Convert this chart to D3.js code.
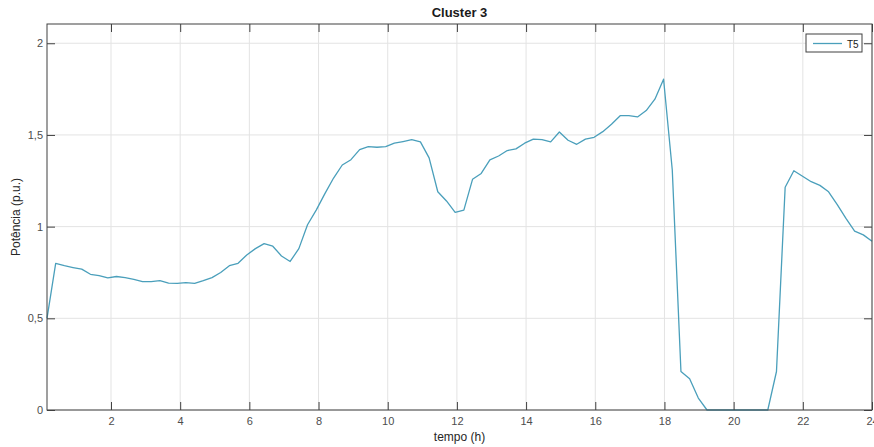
<!DOCTYPE html>
<html>
<head>
<meta charset="utf-8">
<script src="https://cdn.jsdelivr.net/npm/d3@7/dist/d3.min.js"></script>
<style>
  body { margin: 0; background: #fff; }
  text { font-family: "Liberation Sans", Arial, sans-serif; }
</style>
</head>
<body>
<script>
// potência do transformador T5, 96 amostras (aprox. 15 min)
var seriesName = "T5";
var values = [
  0.50, 0.80, 0.787, 0.777, 0.768, 0.74, 0.733, 0.72, 0.728, 0.722,
  0.712, 0.70, 0.70, 0.705, 0.692, 0.69, 0.695, 0.69, 0.705, 0.722,
  0.75, 0.787, 0.80, 0.845, 0.88, 0.907, 0.893, 0.84, 0.81, 0.88,
  1.01, 1.09, 1.18, 1.265, 1.336, 1.365, 1.42, 1.436, 1.433, 1.436,
  1.455, 1.464, 1.474, 1.462, 1.375, 1.19, 1.14, 1.078, 1.09, 1.258,
  1.29, 1.364, 1.385, 1.415, 1.424, 1.455, 1.477, 1.474, 1.462, 1.516,
  1.471, 1.449, 1.477, 1.487, 1.518, 1.558, 1.605, 1.605, 1.598, 1.633,
  1.695, 1.804, 1.31, 0.21, 0.17, 0.065, 0, 0, 0, 0,
  0, 0, 0, 0, 0.21, 1.215, 1.305, 1.275, 1.245, 1.225,
  1.19, 1.12, 1.045, 0.975, 0.955, 0.92
];
var tStart = 0.15, tEnd = 24;
var xTicks = [2, 4, 6, 8, 10, 12, 14, 16, 18, 20, 22, 24];
var yTicks = [0, 0.5, 1, 1.5, 2];

var width = 874, height = 447;
// plot box (note: "top" is reserved on window, so use prefixed names)
var pL = 47, pR = 872, pT = 24, pB = 410;
var lineColor = "#4a9fbb";
var axisColor = "#404040";

var svg = d3.select("body").append("svg")
    .attr("width", width)
    .attr("height", height);

var x = d3.scaleLinear().domain([tStart, tEnd]).range([pL, pR]);
var y = d3.scaleLinear().domain([0, 2.105]).range([pB, pT]);

var step = (tEnd - tStart) / (values.length - 1);
var data = values.map(function(v, i) { return {t: tStart + i * step, v: v}; });

//grid
svg.append("g").selectAll("line").data(xTicks).enter().append("line")
    .attr("x1", function(d) { return x(d); }).attr("x2", function(d) { return x(d); })
    .attr("y1", pT).attr("y2", pB)
    .attr("stroke", "#e3e3e3").attr("stroke-width", 1);
svg.append("g").selectAll("line").data(yTicks).enter().append("line")
    .attr("x1", pL).attr("x2", pR)
    .attr("y1", function(d) { return y(d); }).attr("y2", function(d) { return y(d); })
    .attr("stroke", "#e3e3e3").attr("stroke-width", 1);

//line
var line = d3.line()
    .x(function(d) { return x(d.t); })
    .y(function(d) { return y(d.v); });
svg.append("path").datum(data)
    .attr("d", line)
    .attr("fill", "none")
    .attr("stroke", lineColor)
    .attr("stroke-width", 1.3)
    .attr("stroke-linejoin", "round");

//axes (ticks inside, like matlab)
var fmt = function(d) { return String(d).replace(".", ","); };
var tl = 8;

var xb = svg.append("g").attr("transform", "translate(0," + pB + ")")
    .call(d3.axisBottom(x).tickValues(xTicks).tickSize(-tl).tickPadding(7).tickFormat(fmt));
var xt = svg.append("g").attr("transform", "translate(0," + pT + ")")
    .call(d3.axisTop(x).tickValues(xTicks).tickSize(-tl).tickFormat(""));
var yl = svg.append("g").attr("transform", "translate(" + pL + ",0)")
    .call(d3.axisLeft(y).tickValues(yTicks).tickSize(-tl).tickPadding(4).tickFormat(fmt));
var yr = svg.append("g").attr("transform", "translate(" + pR + ",0)")
    .call(d3.axisRight(y).tickValues(yTicks).tickSize(-tl).tickFormat(""));

[xb, xt, yl, yr].forEach(function(g) {
    g.select(".domain").remove();
    g.selectAll(".tick line").attr("stroke", axisColor);
    g.selectAll("text").attr("fill", "#4d4d4d").style("font-size", "11px")
        .style("font-family", "'Liberation Sans', Arial, sans-serif");
});

//box
svg.append("rect")
    .attr("x", pL).attr("y", pT)
    .attr("width", pR - pL).attr("height", pB - pT)
    .attr("fill", "none").attr("stroke", axisColor).attr("stroke-width", 1);

//title and labels
svg.append("text").attr("x", (pL + pR) / 2).attr("y", 17)
    .attr("text-anchor", "middle").style("font-size", "13px").style("font-weight", "bold")
    .attr("fill", "#1a1a1a").text("Cluster 3");
svg.append("text").attr("x", (pL + pR) / 2).attr("y", 441)
    .attr("text-anchor", "middle").style("font-size", "12px")
    .attr("fill", "#262626").text("tempo (h)");
svg.append("text")
    .attr("transform", "translate(20," + ((pT + pB) / 2) + ") rotate(-90)")
    .attr("text-anchor", "middle").style("font-size", "12px")
    .attr("fill", "#262626").text("Potência (p.u.)");

//legend
var lg = svg.append("g");
lg.append("rect").attr("x", 806).attr("y", 34).attr("width", 56).attr("height", 18)
    .attr("fill", "#fff").attr("stroke", axisColor).attr("stroke-width", 1);
lg.append("line").attr("x1", 813).attr("x2", 842).attr("y1", 43.5).attr("y2", 43.5)
    .attr("stroke", lineColor).attr("stroke-width", 1.3);
lg.append("text").attr("x", 847).attr("y", 47.5).style("font-size", "10px")
    .attr("fill", "#1a1a1a").text(seriesName);
</script>
</body>
</html>
